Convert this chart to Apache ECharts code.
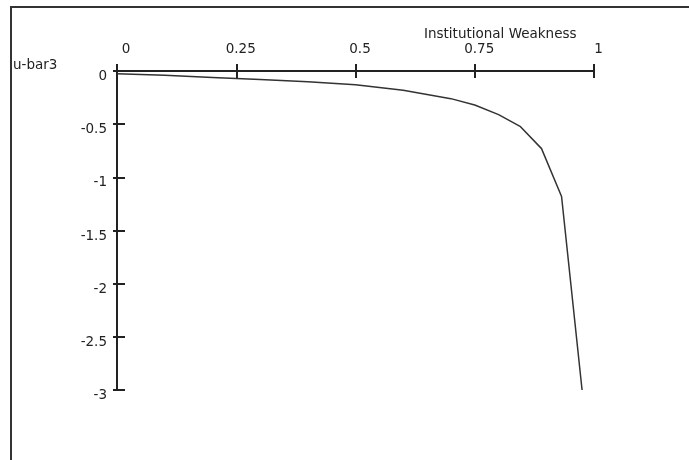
<!DOCTYPE html>
<html>
<head>
<meta charset="utf-8">
<script src="https://cdn.jsdelivr.net/npm/echarts@6/dist/echarts.min.js"></script>
<style>html,body{margin:0;padding:0;background:#fff;}#c{width:689px;height:460px;}</style>
</head>
<body>
<div id="c"></div>
<script>
var xTitle = 'Institutional Weakness';
var yTitle = 'u-bar3';
var weakness = [0, 0.1, 0.2, 0.3, 0.4, 0.5, 0.55, 0.6, 0.65, 0.7, 0.75, 0.8, 0.845, 0.89, 0.932, 0.975];
var ubar3 = [-0.025, -0.04, -0.06, -0.08, -0.10, -0.13, -0.155, -0.18, -0.22, -0.26, -0.32, -0.41, -0.52, -0.73, -1.18, -3.0];
var xTicks = [0, 0.25, 0.5, 0.75, 1];
var yTicks = [0, -0.5, -1, -1.5, -2, -2.5, -3];

var FONT = 'DejaVu Sans';
var FS = 13.5;
var INK = '#222';
var chart = echarts.init(document.getElementById('c'), null, {renderer: 'canvas'});
var pts = weakness.map(function (x, i) { return [x, ubar3[i]]; });

function xAxisDef(main) {
  return {
    type: 'value', position: 'top', min: 0, max: 1, interval: 0.25,
    splitLine: {show: false},
    axisLine: {show: true, onZero: false, lineStyle: {color: INK, width: 2}},
    axisTick: {show: true, inside: !main, length: 7, lineStyle: {color: INK, width: 2}},
    axisLabel: main ? {
      show: true, margin: 15, color: INK, fontFamily: FONT, fontSize: FS,
      customValues: xTicks,
      formatter: function (v) { return v === 0 ? '{z|0}' : '{n|' + String(v) + '}'; },
      rich: {
        z: {fontFamily: FONT, fontSize: FS, color: INK, padding: [0, 0, 0, 18]},
        n: {fontFamily: FONT, fontSize: FS, color: INK, padding: [0, 0, 0, 9]}
      }
    } : {show: false}
  };
}
function yAxisDef(main) {
  return {
    type: 'value', position: 'left', min: -3, max: 0, interval: 0.5,
    splitLine: {show: false},
    axisLine: {show: true, onZero: false, lineStyle: {color: INK, width: 2}},
    axisTick: {show: true, inside: !main, length: main ? 4 : 8, lineStyle: {color: INK, width: 2}},
    axisLabel: main ? {
      show: true, margin: 10, color: INK, fontFamily: FONT, fontSize: FS,
      customValues: yTicks,
      formatter: function (v) { return '{a|' + String(v) + '}'; },
      rich: {a: {fontFamily: FONT, fontSize: FS, color: INK, padding: [11, 0, 0, 0]}}
    } : {show: false}
  };
}

chart.setOption({
  animation: false,
  backgroundColor: '#fff',
  grid: {left: 117, top: 71, right: 95, bottom: 70, containLabel: false},
  title: [
    {text: xTitle, left: 424, top: 27, padding: 0,
     textStyle: {fontFamily: FONT, fontSize: FS, fontWeight: 'normal', color: INK}},
    {text: yTitle, left: 13, top: 58, padding: 0,
     textStyle: {fontFamily: FONT, fontSize: FS, fontWeight: 'normal', color: INK}}
  ],
  xAxis: [xAxisDef(true), xAxisDef(false)],
  yAxis: [yAxisDef(true), yAxisDef(false)],
  series: [{
    type: 'line', xAxisIndex: 0, yAxisIndex: 0, data: pts,
    showSymbol: false, symbol: 'none', smooth: false,
    lineStyle: {color: '#333', width: 1.5}
  }],
  graphic: [{
    type: 'polyline', silent: true,
    shape: {points: [[11, 460], [11, 7], [689, 7]]},
    style: {stroke: '#333', lineWidth: 2, fill: null}
  }]
});
</script>
</body>
</html>
